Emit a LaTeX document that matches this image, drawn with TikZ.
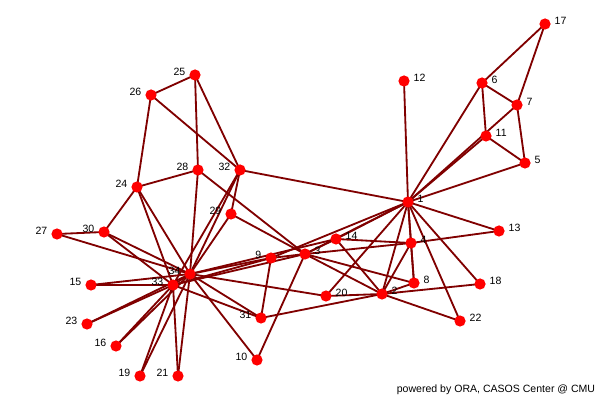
\documentclass[tikz,border=0pt]{standalone}
\usepackage{fontspec}
\setmainfont{Liberation Sans}
\usetikzlibrary{backgrounds}
\begin{document}
\begin{tikzpicture}[x=0.025cm, y=-0.025cm,
    actor/.style={circle, fill=red, inner sep=0pt, minimum size=0.28cm},
    lbl/.style={font=\fontsize{7.5}{8}\selectfont, inner sep=1pt, label distance=1.5pt, yshift=2.5pt},
    tie/.style={draw=black!50!red, line width=1.3pt}]
      \useasboundingbox (0,0) rectangle (600,400);
      \node[actor, label={[lbl]right:1}] (n1) at (408,202) {};
      \node[actor, label={[lbl]right:2}] (n2) at (382,294) {};
      \node[actor, label={[lbl]right:3}] (n3) at (305,254) {};
      \node[actor, label={[lbl]right:4}] (n4) at (411,243) {};
      \node[actor, label={[lbl]right:5}] (n5) at (525,163) {};
      \node[actor, label={[lbl]right:6}] (n6) at (482,83) {};
      \node[actor, label={[lbl]right:7}] (n7) at (517,105) {};
      \node[actor, label={[lbl]right:8}] (n8) at (414,283) {};
      \node[actor, label={[lbl]left:9}] (n9) at (271,258) {};
      \node[actor, label={[lbl]left:10}] (n10) at (257,360) {};
      \node[actor, label={[lbl]right:11}] (n11) at (486,136) {};
      \node[actor, label={[lbl]right:12}] (n12) at (404,81) {};
      \node[actor, label={[lbl]right:13}] (n13) at (499,231) {};
      \node[actor, label={[lbl]right:14}] (n14) at (336,239) {};
      \node[actor, label={[lbl]left:15}] (n15) at (91,285) {};
      \node[actor, label={[lbl]left:16}] (n16) at (116,346) {};
      \node[actor, label={[lbl]right:17}] (n17) at (545,24) {};
      \node[actor, label={[lbl]right:18}] (n18) at (480,284) {};
      \node[actor, label={[lbl]left:19}] (n19) at (140,376) {};
      \node[actor, label={[lbl]right:20}] (n20) at (326,296) {};
      \node[actor, label={[lbl]left:21}] (n21) at (178,376) {};
      \node[actor, label={[lbl]right:22}] (n22) at (460,321) {};
      \node[actor, label={[lbl]left:23}] (n23) at (87,324) {};
      \node[actor, label={[lbl]left:24}] (n24) at (137,187) {};
      \node[actor, label={[lbl]left:25}] (n25) at (195,75) {};
      \node[actor, label={[lbl]left:26}] (n26) at (151,95) {};
      \node[actor, label={[lbl]left:27}] (n27) at (57,234) {};
      \node[actor, label={[lbl]left:28}] (n28) at (198,170) {};
      \node[actor, label={[lbl]left:29}] (n29) at (231,214) {};
      \node[actor, label={[lbl]left:30}] (n30) at (104,232) {};
      \node[actor, label={[lbl]left:31}] (n31) at (261,318) {};
      \node[actor, label={[lbl]left:32}] (n32) at (240,170) {};
      \node[actor, label={[lbl]left:33}] (n33) at (173,285) {};
      \node[actor, label={[lbl]left:34}] (n34) at (190,274) {};
      % ties of the club, kept under the labels
      \begin{pgfonlayer}{background}
      \foreach \b in {2,3,4,5,6,7,8,9,11,12,13,14,18,20,22,32}
        \draw[tie] (n1.center) -- (n\b.center);
      \foreach \b in {3,4,8,14,18,20,22,31}
        \draw[tie] (n2.center) -- (n\b.center);
      \foreach \b in {4,8,9,10,14,28,29,33}
        \draw[tie] (n3.center) -- (n\b.center);
      \foreach \a/\b in {4/8,4/13,4/14,5/7,5/11,6/7,6/11,6/17,7/17,
          9/31,9/33,9/34,10/34,14/34,15/33,15/34,16/33,16/34,19/33,19/34,
          20/34,21/33,21/34,23/33,23/34,24/26,24/28,24/30,24/33,24/34,
          25/26,25/28,25/32,26/32,27/30,27/34,28/34,29/32,29/34,
          30/33,30/34,31/33,31/34,32/33,32/34,33/34}
        \draw[tie] (n\a.center) -- (n\b.center);
      \end{pgfonlayer}
      \node[font=\fontsize{7.5}{8}\selectfont] (credit) at (496,390) {powered by ORA, CASOS Center @ CMU};
    \end{tikzpicture}
\end{document}
